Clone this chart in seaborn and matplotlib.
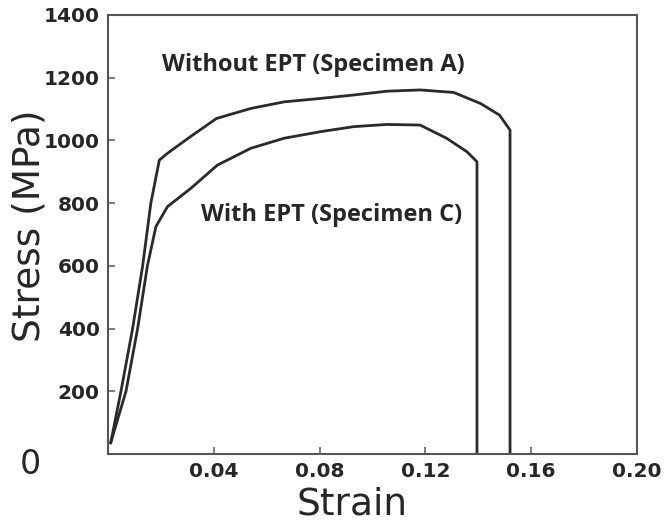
import matplotlib
matplotlib.use("Agg")
import matplotlib.pyplot as plt
import seaborn as sns
import pandas as pd

strain_a = [0.001, 0.0049, 0.0093, 0.0131, 0.0162, 0.0194, 0.0225, 0.030, 0.041, 0.054,
            0.0666, 0.0804, 0.093, 0.1055, 0.118, 0.1307, 0.1408, 0.148, 0.152, 0.152]
stress_a = [35, 200, 400, 600, 800, 937, 959, 1005, 1070, 1102,
            1123, 1134, 1145, 1157, 1161, 1153, 1118, 1081, 1033, 0]

strain_c = [0.001, 0.0068, 0.0112, 0.0149, 0.0181, 0.0225, 0.0313, 0.0413, 0.054,
            0.0666, 0.0804, 0.093, 0.1055, 0.118, 0.128, 0.1357, 0.1395, 0.1395]
stress_c = [35, 200, 400, 600, 725, 789, 847, 921, 975,
            1007, 1028, 1044, 1051, 1049, 1007, 964, 932, 0]

label_a = "Without EPT (Specimen A)"
label_c = "With EPT (Specimen C)"
x_ticks = [0.04, 0.08, 0.12, 0.16, 0.20]
x_ticklabels = ["0.04", "0.08", "0.12", "0.16", "0.20"]
y_ticks = [0, 200, 400, 600, 800, 1000, 1200, 1400]
y_ticklabels = ["", "200", "400", "600", "800", "1000", "1200", "1400"]

df = pd.concat([
    pd.DataFrame({"Strain": strain_a, "Stress": stress_a, "Specimen": label_a}),
    pd.DataFrame({"Strain": strain_c, "Stress": stress_c, "Specimen": label_c}),
], ignore_index=True)

sns.set_style("ticks")
fig = plt.figure(figsize=(6.7, 5.25), dpi=100)
ax = fig.add_axes([108/670, 1-454/525, (637-108)/670, (454-15)/525])

sns.lineplot(data=df, x="Strain", y="Stress", units="Specimen", estimator=None,
             sort=False, color="#2a2a2a", linewidth=2.0, ax=ax, legend=False)

ax.set_xlim(0, 0.20)
ax.set_ylim(0, 1400)
ax.set_xticks(x_ticks)
ax.set_xticklabels(x_ticklabels, fontsize=14.5, fontweight="bold")
ax.set_yticks(y_ticks)
ax.set_yticklabels(y_ticklabels, fontsize=14.5, fontweight="bold")
ax.tick_params(direction="in", length=5, width=1.2, color="#666666", pad=6)
for s in ax.spines.values():
    s.set_visible(True)
    s.set_color("#555555")
    s.set_linewidth(1.5)

ax.set_xlabel("Strain", fontsize=27)
ax.set_ylabel("Stress (MPa)", fontsize=27)
ax.xaxis.set_label_coords(0.461, -0.075)
ax.yaxis.set_label_coords(-0.115, 0.52)

ax.text(-0.147, -0.025, "0", transform=ax.transAxes, fontsize=24,
        ha="center", va="center")

ax.text(0.0777, 1240, label_a, fontsize=17, fontweight="bold",
        family=["Open Sans", "DejaVu Sans"], ha="center", va="center")
ax.text(0.0845, 762, label_c, fontsize=17, fontweight="bold",
        family=["Open Sans", "DejaVu Sans"], ha="center", va="center")

fig.savefig("out.png", dpi=100)
